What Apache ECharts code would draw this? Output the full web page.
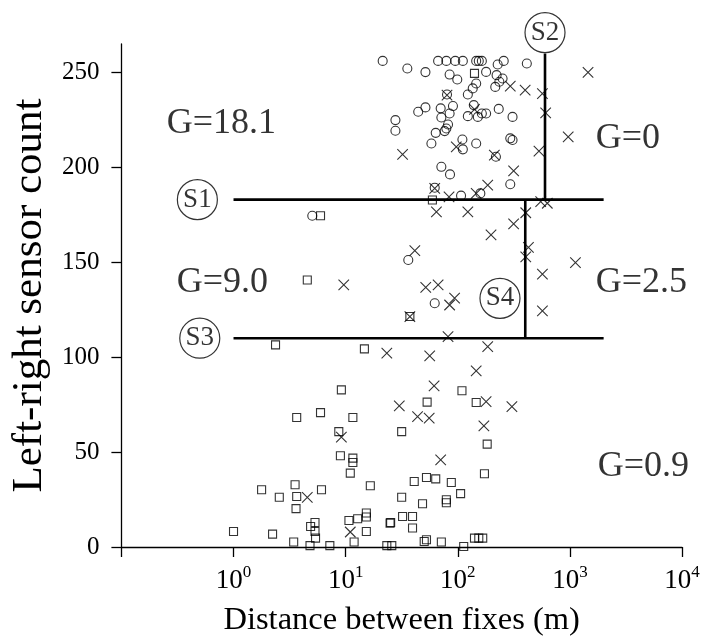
<!DOCTYPE html>
<html><head><meta charset="utf-8">
<script src="https://cdn.jsdelivr.net/npm/echarts@6/dist/echarts.min.js"></script>
<style>html,body{margin:0;padding:0;background:#fff}#c{width:705px;height:642px}</style>
</head><body><div id="c"></div>
<script>
// Data: [distance between fixes (m), left-right sensor count]
const circlePts = [
  [21.4,256.1],[35.5,252.1],[51.5,250.2],[66.8,256.1],[79.1,256.1],[95,256.1],[111,256.1],
  [146,256.1],[154,256.1],[164,256.1],[227,254.2],[257,256.1],[413,254.7],[179,250.3],
  [84.6,248.9],[99,246.3],[222,248.6],[251,246.8],[235,245.1],[216,242.4],[146,244.2],
  [136,241.6],[123,238.4],[80.2,238.4],[90.6,232.3],[70.4,231.1],[44.4,229.3],[51.5,231.6],
  [139,232.8],[123,227],[151,226.6],[164,228.4],[179,228.4],[71.4,226.3],[84.6,228.4],
  [232,230.8],[308,226.6],[27.8,224.9],[27.8,219.3],[81.9,222.6],[79.1,220.5],[76.4,219.1],
  [63.6,218.2],[58.2,212.6],[110,214.7],[111,209.5],[146,212.6],[294,215.3],[308,214.4],
  [219,205.6],[71.4,200.3],[85.3,196.3],[294,191.1],[62.3,189.3],[107,185.1],[159,186.3],
  [5.04,174.5],[36.2,151.2],[62.3,128.4]
];
const crossPts = [
  [1452,250],[294,242.8],[399,240.7],[569,238.9],[608,228.7],[966,216.1],[530,208.6],
  [32.2,206.8],[97,210.8],[212,206.5],[315,198.1],[185,190.7],[146,186.3],[62.3,188.9],
  [83.6,184.5],[549,181.9],[629,181.1],[80.2,238.1],[141,230.5],[64.5,176.6],[123,176.6],
  [404,176.1],[315,170.2],[198,164.4],[427,157.9],[404,152.9],[1121,149.8],[569,143.8],
  [569,124.4],[41.4,156.1],[9.62,138.1],[51.8,136.8],[66.8,138.1],[93.7,131.1],[84.6,127.5],
  [37.4,121.4],[81.9,110.8],[185,105.6],[23.3,102.1],[56.2,100.7],[146,92.8],[61.5,84.9],
  [30.1,74.4],[179,76.6],[304,74],[43.8,68.7],[55.6,67.9],[171,63.8],[9.16,57.9],
  [70.4,45.9],[4.55,26.1],[11.0,7.9]
];
const squarePts = [
  [141,249.5],[59.4,182.8],[5.97,174.5],[4.55,140.7],[37.4,121.4],[2.37,106.5],[14.7,104.4],
  [9.16,82.8],[109,82.3],[53.3,76.3],[146,76.1],[3.66,68.2],[5.97,70.8],[11.6,68.2],
  [8.69,60.8],[31.6,60.8],[183,54.2],[8.98,48.1],[11.6,46.8],[11.6,44.5],[11.0,38.9],
  [173,38.6],[40.9,34.5],[52.6,36.6],[63.6,35.9],[87.6,34],[16.6,32.3],[3.54,32.8],
  [1.78,30.2],[2.56,26.2],[3.66,26.6],[6.09,30.2],[3.61,20.2],[31.6,26.2],[48.5,22.8],
  [79.1,24.9],[79.1,23.3],[106,28.1],[5.33,12.9],[10.7,14],[12.8,14.9],[15.3,17.9],
  [15.3,15.8],[25.2,12.9],[32.2,16.1],[39.5,16.1],[39.5,10],[1,8.2],[2.23,6.8],[3.44,2.6],
  [4.81,0.7],[7.23,0.7],[4.87,10.8],[5.33,8.2],[5.39,4.7],[11.9,2.6],[15.3,8.2],
  [23.3,0.7],[25.8,0.7],[24.9,12.6],[50.2,2.9],[52.6,3.8],[71.4,2.6],[113,0.3],
  [141,4.7],[154,4.7],[167,4.7]
];
// Split lines of the partition tree
const lineS1 = [[1,183],[2000,183]];
const lineS2 = [[600,183],[600,260]];
const lineS3 = [[1,110],[2000,110]];
const lineS4 = [[400,110],[400,183]];
// Node labels and gain annotations: [text, x, y]
const nodeLabels = [['S1',0.476,183],['S2',600,271],['S3',0.5,110],['S4',238,131]];
const gainLabels = [['G=18.1',0.251,223.3],['G=9.0',0.308,139.1],['G=0',1686,215.4],['G=2.5',1686,139.3],['G=0.9',1755,42.3]];
const yTicks = [0,50,100,150,200,250];

const FONT = 'Liberation Serif';
const chart = echarts.init(document.getElementById('c'), null, {renderer:'canvas'});
const markerStyle = {color:'transparent', borderColor:'#000', borderWidth:1.1};
const lineSeries = (d) => ({
  type:'line', data:d, symbol:'none', silent:true, animation:false,
  lineStyle:{color:'#000', width:2.6}, z:3
});
chart.setOption({
  animation:false,
  backgroundColor:'#fff',
  grid:{left:119, right:23, top:44, bottom:95},
  xAxis:{
    type:'log', logBase:10, min:0.1, max:10000,
    name:'Distance between fixes (m)', nameLocation:'middle', nameGap:57,
    nameTextStyle:{fontFamily:FONT, fontSize:32.5, color:'#000'},
    axisLine:{show:true, lineStyle:{color:'#000', width:1.3}},
    axisTick:{show:true, length:10, inside:false, lineStyle:{color:'#000', width:1.3}},
    splitLine:{show:false}, minorTick:{show:false},
    axisLabel:{
      margin:17, color:'#000', fontFamily:FONT,
      formatter:(v)=>{ if (v < 0.5) return ''; const e = Math.round(Math.log10(v)); return '{b|10}{s|' + e + '}'; },
      rich:{
        b:{fontFamily:FONT, fontSize:27, color:'#000', verticalAlign:'bottom', lineHeight:30},
        s:{fontFamily:FONT, fontSize:17, color:'#000', verticalAlign:'top', lineHeight:17}
      }
    }
  },
  yAxis:{
    type:'value', min:0, max:265,
    name:'Left-right sensor count', nameLocation:'middle', nameGap:68, nameRotate:90,
    nameTextStyle:{fontFamily:FONT, fontSize:43, color:'#000'},
    axisLine:{show:true, lineStyle:{color:'#000', width:1.3}},
    axisTick:{show:true, length:10, inside:false, customValues:yTicks, lineStyle:{color:'#000', width:1.3}},
    axisLabel:{margin:22, color:'#000', fontFamily:FONT, fontSize:25, customValues:yTicks},
    splitLine:{show:false}
  },
  series:[
    lineSeries(lineS1), lineSeries(lineS2), lineSeries(lineS3), lineSeries(lineS4),
    {type:'scatter', data:circlePts, symbol:'circle', symbolSize:9, itemStyle:markerStyle, z:2},
    {type:'scatter', data:squarePts, symbol:'rect', symbolSize:8, itemStyle:markerStyle, z:2},
    {type:'scatter', data:crossPts, symbol:'path://M0,0L10,10M10,0L0,10', symbolSize:10.5, itemStyle:markerStyle, z:2},
    {type:'scatter', clip:false, silent:true, z:5,
      data:nodeLabels.map(d=>({value:[d[1],d[2]], name:d[0]})),
      symbol:'circle', symbolSize:40,
      itemStyle:{color:'#fff', borderColor:'#000', borderWidth:1.2},
      label:{show:true, position:'inside', formatter:(p)=>p.name, fontFamily:FONT, fontSize:27, color:'#000'}
    },
    {type:'scatter', clip:false, silent:true, z:5,
      data:gainLabels.map(d=>({value:[d[1],d[2]], name:d[0]})),
      symbol:'circle', symbolSize:1, itemStyle:{color:'transparent'},
      label:{show:true, position:'right', distance:0, formatter:(p)=>p.name, fontFamily:FONT, fontSize:36, color:'#000'}
    }
  ]
});
</script></body></html>
